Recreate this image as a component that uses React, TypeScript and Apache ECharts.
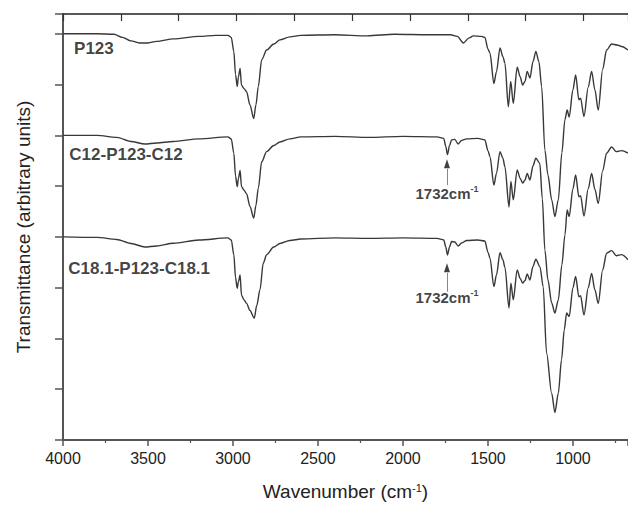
import React, { useEffect, useRef } from "react";
import * as echarts from "echarts";

// [wavenumber (cm-1), transmittance (arbitrary, offset)]
const p123: [number, number][] = [
  [4000, 8.0], [3800, 8.0], [3700, 7.99], [3650, 7.93], [3600, 7.86], [3550, 7.82], [3500, 7.82],
  [3450, 7.85], [3350, 7.9], [3200, 7.95], [3100, 7.97], [3030, 7.97], [3010, 7.93], [2995, 7.65],
  [2985, 7.2], [2975, 6.96], [2968, 7.15], [2958, 7.32], [2950, 6.99], [2935, 6.92], [2920, 6.86],
  [2900, 6.6], [2878, 6.33], [2865, 6.6], [2851, 6.96], [2831, 7.49], [2802, 7.68], [2760, 7.8],
  [2724, 7.88], [2665, 7.94], [2600, 7.97], [2400, 7.98], [2210, 7.96], [2050, 7.99], [1850, 7.98],
  [1720, 7.98], [1680, 7.95], [1645, 7.82], [1610, 7.92], [1586, 7.96], [1540, 7.95], [1518, 7.93],
  [1500, 7.7], [1488, 7.62], [1465, 7.02], [1450, 7.25], [1429, 7.72], [1412, 7.55], [1400, 7.42],
  [1380, 6.56], [1366, 7.06], [1351, 6.63], [1328, 7.34], [1310, 7.15], [1296, 6.99], [1282, 7.06],
  [1269, 7.26], [1253, 7.13], [1235, 7.45], [1218, 7.65], [1200, 7.45], [1184, 6.96], [1165, 5.71],
  [1147, 5.22], [1125, 4.73], [1106, 4.4], [1086, 4.73], [1065, 5.66], [1047, 6.31], [1034, 6.5],
  [1022, 6.36], [1000, 6.9], [984, 7.19], [965, 6.7], [955, 6.73], [935, 6.37], [910, 6.95],
  [890, 7.26], [871, 6.9], [851, 6.5], [825, 7.3], [802, 7.68], [772, 7.8], [740, 7.78],
  [714, 7.75], [676, 7.68],
];

const c12: [number, number][] = [
  [4000, 6.0], [3800, 6.0], [3684, 5.96], [3600, 5.88], [3518, 5.83], [3450, 5.85], [3351, 5.88],
  [3200, 5.93], [3030, 5.97], [3010, 5.93], [2995, 5.65], [2985, 5.2], [2975, 4.99], [2968, 5.15],
  [2958, 5.31], [2950, 4.99], [2935, 4.92], [2920, 4.85], [2900, 4.6], [2878, 4.37], [2865, 4.62],
  [2851, 4.96], [2831, 5.48], [2802, 5.68], [2760, 5.8], [2724, 5.87], [2665, 5.93], [2600, 5.97],
  [2400, 5.98], [2200, 5.96], [2000, 5.98], [1800, 5.97], [1760, 5.94], [1748, 5.78], [1738, 5.62],
  [1726, 5.8], [1714, 5.91], [1695, 5.92], [1675, 5.83], [1655, 5.9], [1625, 5.93], [1560, 5.94],
  [1518, 5.91], [1500, 5.7], [1488, 5.58], [1465, 5.02], [1450, 5.25], [1429, 5.68], [1412, 5.55],
  [1400, 5.38], [1376, 4.59], [1365, 5.09], [1351, 4.73], [1328, 5.32], [1310, 5.15], [1296, 5.06],
  [1282, 5.12], [1269, 5.25], [1253, 5.12], [1235, 5.4], [1218, 5.55], [1195, 5.45], [1180, 4.75],
  [1165, 3.74], [1147, 3.15], [1125, 2.7], [1106, 2.5], [1086, 2.76], [1065, 3.45], [1047, 4.04],
  [1034, 4.53], [1022, 4.4], [1000, 4.95], [984, 5.22], [965, 4.79], [955, 4.81], [935, 4.41],
  [910, 4.95], [890, 5.25], [871, 4.94], [851, 4.66], [825, 5.3], [802, 5.65], [772, 5.77],
  [745, 5.68], [714, 5.7], [676, 5.65],
];

const c181: [number, number][] = [
  [4000, 4.0], [3800, 3.99], [3684, 3.95], [3600, 3.87], [3518, 3.8], [3450, 3.82], [3351, 3.875],
  [3200, 3.94], [3030, 3.98], [3010, 3.94], [2995, 3.65], [2985, 3.2], [2975, 2.99], [2968, 3.12],
  [2958, 3.25], [2950, 2.85], [2935, 2.76], [2920, 2.69], [2900, 2.55], [2875, 2.4], [2860, 2.65],
  [2841, 2.96], [2822, 3.48], [2802, 3.65], [2760, 3.8], [2724, 3.87], [2665, 3.93], [2600, 3.96],
  [2400, 3.98], [2200, 3.97], [2000, 3.98], [1800, 3.97], [1760, 3.94], [1748, 3.8], [1738, 3.645],
  [1726, 3.8], [1714, 3.91], [1695, 3.9], [1675, 3.82], [1655, 3.88], [1625, 3.93], [1560, 3.94],
  [1518, 3.92], [1500, 3.7], [1488, 3.58], [1465, 3.02], [1450, 3.25], [1429, 3.69], [1412, 3.55],
  [1400, 3.4], [1376, 2.6], [1365, 3.09], [1351, 2.76], [1328, 3.35], [1310, 3.18], [1296, 3.09],
  [1282, 3.14], [1269, 3.27], [1253, 3.15], [1235, 3.42], [1218, 3.56], [1194, 3.41], [1175, 3.02],
  [1155, 1.71], [1125, 0.92], [1106, 0.54], [1086, 0.92], [1067, 1.58], [1051, 2.17], [1037, 2.5],
  [1022, 2.43], [1000, 3.0], [984, 3.22], [965, 2.82], [955, 2.84], [935, 2.46], [910, 3.0],
  [890, 3.28], [871, 2.96], [851, 2.69], [825, 3.35], [802, 3.68], [772, 3.73], [745, 3.63],
  [714, 3.65], [676, 3.55],
];

const seriesNames = ["P123", "C12-P123-C12", "C18.1-P123-C18.1"];
const seriesData = [p123, c12, c181];
const nameLabelAt: [number, number][] = [[3935, 7.71], [3963, 5.62], [3969, 3.38]];
const peakLabelText = "1732cm";
const peakLabelAt: [number, number][] = [[1741, 4.85], [1741, 2.8]];
const arrowTail: [number, number][] = [[1741, 5.02], [1741, 2.92]];
const arrowHead: [number, number][] = [[1741, 5.44], [1741, 3.39]];

const FONT = "'Liberation Sans', Arial, Helvetica, sans-serif";

export default function App() {
  const ref = useRef<HTMLDivElement>(null);
  useEffect(() => {
    if (!ref.current) return;
    const chart = echarts.init(ref.current, undefined, { renderer: "svg" });
    const neg = (d: [number, number][]) => d.map(([w, t]) => [-w, t]);

    const lineSeries = seriesData.map((d, i) => ({
      type: "line",
      name: seriesNames[i],
      data: neg(d),
      showSymbol: false,
      smooth: 0.3,
      smoothMonotone: "x",
      lineStyle: { color: "#383838", width: 1.4 },
      silent: true,
      z: 3,
    }));

    const arrowShafts = {
      type: "lines",
      coordinateSystem: "cartesian2d",
      silent: true,
      z: 4,
      lineStyle: { color: "#888", width: 1, opacity: 1 },
      data: arrowTail.map((t, i) => ({
        coords: [
          [-t[0], t[1]],
          [-arrowHead[i][0], arrowHead[i][1] - 0.1],
        ],
      })),
    };

    const arrowHeads = {
      type: "scatter",
      symbol: "triangle",
      symbolSize: [6, 9],
      silent: true,
      z: 5,
      itemStyle: { color: "#111" },
      data: arrowHead.map(([w, t]) => [-w, t]),
    };

    const nameLabels = {
      type: "scatter",
      symbolSize: 0,
      silent: true,
      z: 5,
      data: nameLabelAt.map(([w, t], i) => ({
        value: [-w, t],
        label: {
          show: true,
          position: "inside",
          align: "left",
          verticalAlign: "middle",
          formatter: seriesNames[i],
          fontSize: 17,
          fontWeight: "bold",
          color: "#111",
          fontFamily: FONT,
        },
      })),
    };

    const peakLabels = {
      type: "scatter",
      symbolSize: 0,
      silent: true,
      z: 5,
      data: peakLabelAt.map(([w, t]) => ({
        value: [-w, t],
        label: {
          show: true,
          position: "inside",
          align: "center",
          verticalAlign: "middle",
          formatter: "{n|" + peakLabelText + "}{s|-1}",
          rich: {
            n: { fontSize: 15, fontWeight: "bold", color: "#111", fontFamily: FONT, lineHeight: 18 },
            s: { fontSize: 9, fontWeight: "bold", color: "#111", fontFamily: FONT, verticalAlign: "top", lineHeight: 10 },
          },
        },
      })),
    };

    chart.setOption({
      animation: false,
      backgroundColor: "#fff",
      grid: { left: 63, right: 0, top: 14, bottom: 66 },
      xAxis: [
        {
          type: "value",
          position: "bottom",
          min: -4000,
          max: -676,
          interval: 500,
          axisLine: { show: true, onZero: false, lineStyle: { color: "#555", width: 2 } },
          axisTick: { show: true, inside: false, length: 6, lineStyle: { color: "#555", width: 1.5 } },
          minorTick: { show: true, splitNumber: 2, length: 3, lineStyle: { color: "#555", width: 1.2 } },
          splitLine: { show: false },
          axisLabel: {
            formatter: (v: number) => String(-v),
            fontSize: 16,
            color: "#222",
            margin: 10,
            showMaxLabel: false,
            fontFamily: FONT,
          },
          name: "Wavenumber (cm{s|-1})",
          nameLocation: "middle",
          nameGap: 42,
          nameTextStyle: {
            fontSize: 19,
            color: "#222",
            fontFamily: FONT,
            rich: { s: { fontSize: 11, color: "#222", fontFamily: FONT, verticalAlign: "top" } },
          },
        },
        {
          type: "value",
          position: "top",
          min: 0,
          max: 9.77,
          interval: 1,
          axisLine: { show: true, onZero: false, lineStyle: { color: "#222", width: 1.5 } },
          axisTick: { show: true, inside: true, length: 7, lineStyle: { color: "#333", width: 1.2 } },
          axisLabel: { show: false },
          splitLine: { show: false },
        },
      ],
      yAxis: {
        type: "value",
        min: 0,
        max: 8.39,
        interval: 1,
        axisLine: { show: true, onZero: false, lineStyle: { color: "#555", width: 2 } },
        axisTick: { show: true, inside: false, length: 8, lineStyle: { color: "#555", width: 1.5 } },
        axisLabel: { show: false },
        splitLine: { show: false },
        name: "Transmittance (arbitrary units)",
        nameLocation: "middle",
        nameGap: 30,
        nameRotate: 90,
        nameTextStyle: { fontSize: 19, color: "#222", fontFamily: FONT },
      },
      series: [...lineSeries, arrowShafts, arrowHeads, nameLabels, peakLabels],
    } as any);

    return () => chart.dispose();
  }, []);

  return (
    <div
      ref={ref}
      style={{ position: "absolute", left: 0, top: 0, width: 628, height: 506, background: "#fff" }}
    />
  );
}
